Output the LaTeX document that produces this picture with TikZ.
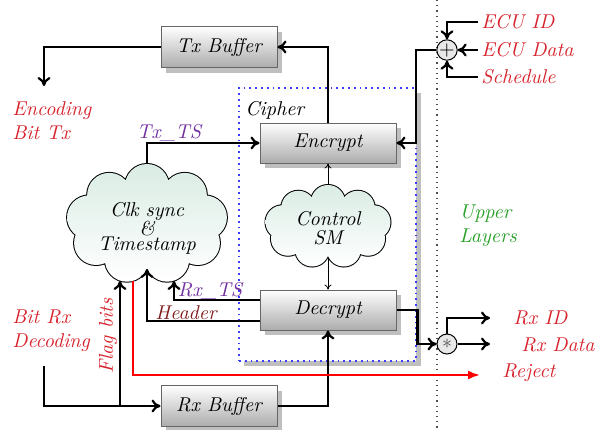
\documentclass[tikz,border=0pt]{standalone}
\usetikzlibrary{arrows.meta,shadows,calc}
\definecolor{txtred}{RGB}{215,35,45}
\definecolor{txtpurple}{RGB}{112,48,160}
\definecolor{txtgreen}{RGB}{40,160,40}
\definecolor{txtheader}{RGB}{128,30,30}
\definecolor{cipherblue}{RGB}{60,60,255}
\definecolor{cloudtop}{RGB}{218,236,228}
\newcommand{\cloudrow}[2]{\makebox[0pt]{\raisebox{#1}[0pt][0pt]{#2}}}
\begin{document}
\begin{tikzpicture}[x=0.5pt,y=-0.5pt,
  arr/.style={line width=1.1pt,-{Computer Modern Rightarrow[length=4.5pt,width=6.5pt]}},
  thinarr/.style={line width=0.4pt,-{Computer Modern Rightarrow[length=2.5pt,width=3.5pt]}},
  boxn/.style={draw=gray!80!black,line width=0.5pt,top color=white,bottom color=gray!65,
    minimum width=58pt,minimum height=20.5pt,inner sep=0pt,font=\itshape,
    drop shadow={shadow xshift=2.5pt,shadow yshift=-2.5pt,fill=black!25,opacity=1}},
  cloudtext/.style={inner sep=0pt,font=\itshape},
  redt/.style={text=txtred,font=\itshape,align=left,inner sep=0pt},
  purplet/.style={text=txtpurple,font=\itshape,inner sep=0pt},
  greent/.style={text=txtgreen,font=\itshape,align=left,inner sep=0pt},
  headt/.style={text=txtheader,font=\itshape,inner sep=0pt},
  opn/.style={circle,draw=black,fill=gray!18,minimum size=10pt,inner sep=0pt,line width=0.5pt}
]
\useasboundingbox (0,0) rectangle (595,429);

% cipher group box
\node[draw=cipherblue,dotted,line width=0.9pt,fill=white,minimum width=88.5pt,minimum height=136.5pt,
  drop shadow={shadow xshift=2.5pt,shadow yshift=-2.5pt,fill=black!25,opacity=1}] (cipher) at (327.5,224.5) {};
\node[anchor=west,font=\itshape,inner sep=0pt] (cipherlabel) at (245,110) {Cipher};

% separator
\coordinate (septop) at (437,0);
\coordinate (sepbot) at (437,429);
\draw[dotted,line width=0.6pt,gray!60!black] (septop) -- (sepbot);

% boxes
\node[boxn] (txb) at (219,47) {Tx Buffer};
\node[boxn] (rxb) at (219,406) {Rx Buffer};
\node[boxn,minimum width=68pt,minimum height=20pt] (enc) at (328,143) {Encrypt};
\node[boxn,minimum width=68pt,minimum height=20pt] (dec) at (328,310) {Decrypt};

% clouds (9 puffs, one puff on top, a dip at the bottom)
\begin{scope}[shift={(147,224)},x=1pt,y=1pt]
  \draw[line width=1pt] \foreach \a in {90,130,...,410}{(\a:29.4 and 19) circle[radius=11]};
  \shade[top color=cloudtop,bottom color=white] (0,0) ellipse[x radius=29.4,y radius=19]
     \foreach \a in {90,130,...,410}{(\a:29.4 and 19) circle[radius=11]};
\end{scope}
\begin{scope}[shift={(328,226.5)},x=1pt,y=1pt]
  \draw[line width=1pt] \foreach \a in {90,130,...,410}{(\a:23.1 and 12.25) circle[radius=8.5]};
  \shade[top color=cloudtop,bottom color=white] (0,0) ellipse[x radius=23.1,y radius=12.25]
     \foreach \a in {90,130,...,410}{(\a:23.1 and 12.25) circle[radius=8.5]};
\end{scope}
\node[cloudtext,minimum width=80pt,minimum height=60pt] (clk) at (147,224)
  {\cloudrow{4pt}{Clk sync}\cloudrow{-5.5pt}{\&}\cloudrow{-13pt}{Timestamp}};
\node[cloudtext,minimum width=62.5pt,minimum height=41.5pt] (ctl) at (328,226.5)
  {\cloudrow{0.5pt}{Control}\cloudrow{-9pt}{SM}};

% operators
\node[opn] (xor) at (447,50) {$+$};
\node[opn] (star) at (447,344) {\textcolor{black!70}{$\ast$}};

% texts
\node[redt,anchor=west] (enctx) at (12,121) {Encoding\\Bit Tx};
\node[redt,anchor=west] (bitrx) at (12,331) {Bit Rx\\Decoding};
\node[greent,anchor=west] (upper) at (459,226) {Upper\\Layers};
\node[redt,anchor=west,inner sep=1.5pt] (ecuid) at (478,22) {ECU ID};
\node[redt,anchor=west,inner sep=1.5pt] (ecudata) at (478,50) {ECU Data};
\node[redt,anchor=west,inner sep=1.5pt] (sched) at (478,77) {Schedule};
\node[redt,anchor=west] (rxid) at (513,318) {Rx ID};
\node[redt,anchor=west] (rxdata) at (521,345) {Rx Data};
\node[redt,anchor=west] (reject) at (502,373) {Reject};
\node[redt,rotate=90] (flag) at (108,336) {Flag bits};
\node[purplet] (txts) at (169,133) {Tx\_TS};
\node[purplet] (rxts) at (210,291) {Rx\_TS};
\node[headt] (hdr) at (186,313) {Header};

% free ends
\coordinate (txdown) at (44,86);
\coordinate (bitrxs) at (44,366);
\coordinate (cA) at (120,281);
\coordinate (cB) at (147,269);
\coordinate (cC) at (174,281);
\coordinate (cR) at (133,281);
\coordinate (rejend) at (480,375);
\coordinate (rxidend) at (490,318);
\coordinate (rxdataend) at (490,344);

% connectors
\draw[arr] (enc.north) |- (txb.east);
\draw[arr] (txb.west) -| (txdown);
\draw[arr] (clk.north) |- (enc.west);
\draw[arr] (xor.west) -- ++(-20,0) |- (enc.east);
\draw[arr] (ecuid.west) -| (xor.north);
\draw[arr] (ecudata.west) -- (xor.east);
\draw[arr] (sched.west) -| (xor.south);
\draw[thinarr] (ctl.north) -- (enc.south);
\draw[thinarr] ([yshift=5pt]ctl.south) -- (dec.north);
\draw[arr] (dec.east) -- ++(21,0) |- (star.west);
\draw[arr] (star.east) -- (rxdataend);
\draw[arr] (star.north) |- (rxidend);
\draw[arr] ([yshift=5pt]dec.west) -| (cC);
\draw[arr] ([yshift=-5.5pt]dec.west) -| (cB);
\draw[arr] (bitrxs) |- (rxb.west);
\draw[arr] (rxb.west -| cA) -- (cA);
\draw[arr] (rxb.east) -| (dec.south);
\draw[line width=1.1pt,red,-{Latex[length=6pt,width=4.5pt]}] (cR) |- (rejend);
\end{tikzpicture}
\end{document}
